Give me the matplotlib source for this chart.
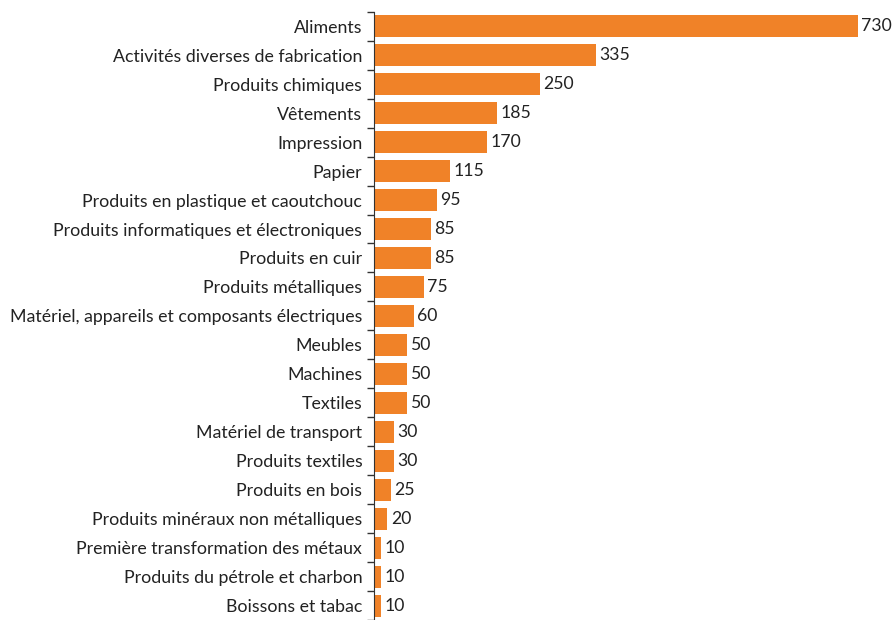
import matplotlib.pyplot as plt
import numpy as np

categories = [
    "Aliments",
    "Activités diverses de fabrication",
    "Produits chimiques",
    "Vêtements",
    "Impression",
    "Papier",
    "Produits en plastique et caoutchouc",
    "Produits informatiques et électroniques",
    "Produits en cuir",
    "Produits métalliques",
    "Matériel, appareils et composants électriques",
    "Meubles",
    "Machines",
    "Textiles",
    "Matériel de transport",
    "Produits textiles",
    "Produits en bois",
    "Produits minéraux non métalliques",
    "Première transformation des métaux",
    "Produits du pétrole et charbon",
    "Boissons et tabac",
]
values = [730, 335, 250, 185, 170, 115, 95, 85, 85, 75, 60, 50, 50, 50, 30, 30, 25, 20, 10, 10, 10]

plt.rcParams['font.family'] = ['Lato', 'DejaVu Sans']

fig = plt.figure(figsize=(8.93, 6.2), dpi=100)
ax = fig.add_axes([0.419, 0.0, 0.542, 0.981])

y = np.arange(len(categories))
ax.barh(y, values, height=0.76, color='#F08228')
for yi, v in zip(y, values):
    ax.text(v + 5, yi, str(v), va='center', ha='left', fontsize=12.7, color='#222222', clip_on=False)

ax.set_ylim(len(categories) - 0.5, -0.5)
ax.set_xlim(0, 730)
ax.set_yticks(y)
ax.set_yticklabels(categories, fontsize=12.8, color='#222222')
ax.tick_params(axis='y', which='major', length=0, pad=8.5)
ax.set_yticks(np.arange(len(categories) + 1) - 0.5, minor=True)
ax.tick_params(axis='y', which='minor', length=5, width=1, color='#333333')
ax.set_xticks([])
for s in ['top', 'right', 'bottom']:
    ax.spines[s].set_visible(False)
ax.spines['left'].set_color('#333333')

fig.savefig('out.png', dpi=100)
